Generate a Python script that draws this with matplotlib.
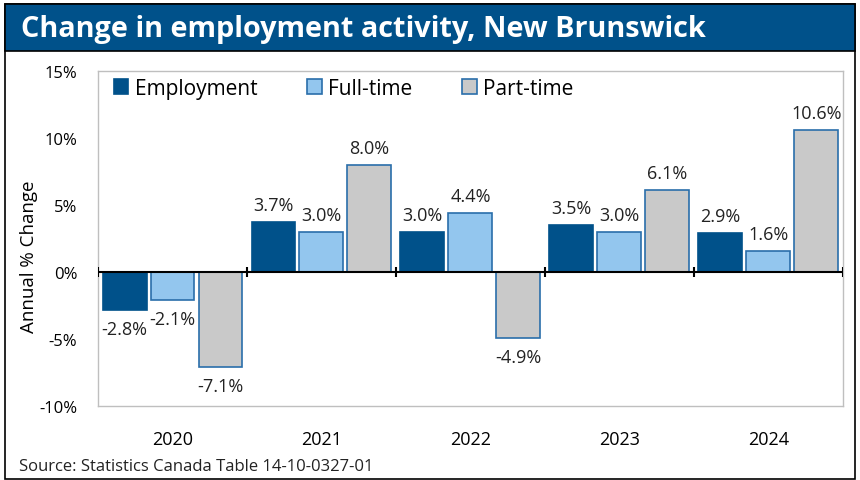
import matplotlib.pyplot as plt
import numpy as np
from matplotlib.patches import Rectangle

plt.rcParams['font.family'] = ['Open Sans', 'DejaVu Sans']

years = ['2020', '2021', '2022', '2023', '2024']
series_names = ['Employment', 'Full-time', 'Part-time']
employment = [-2.8, 3.7, 3.0, 3.5, 2.9]
full_time = [-2.1, 3.0, 4.4, 3.0, 1.6]
part_time = [-7.1, 8.0, -4.9, 6.1, 10.6]
y_ticks = [-10, -5, 0, 5, 10, 15]

fills = ['#00518a', '#93c6ee', '#c9c9c9']
edges = ['#00518a', '#2a6eaa', '#2a6eaa']

fig = plt.figure(figsize=(8.6, 4.81), dpi=100)

# outer frame and title bar
fig.patches.append(Rectangle((0.006, 0.002), 0.988, 0.988, transform=fig.transFigure,
                             fill=False, edgecolor='black', linewidth=1.2))
fig.patches.append(Rectangle((0.006, 0.891), 0.988, 0.099, transform=fig.transFigure,
                             facecolor='#00518a', edgecolor='black', linewidth=1.2))
fig.text(0.024, 0.938, 'Change in employment activity, New Brunswick', color='white',
         fontsize=20.8, fontweight='bold', va='center', ha='left')

ax = fig.add_axes([0.114, 0.154, 0.866, 0.696])

x = np.arange(len(years))
w = 0.295
step = 0.322
for i, vals in enumerate([employment, full_time, part_time]):
    pos = x + (i - 1) * step
    ax.bar(pos, vals, width=w, color=fills[i], edgecolor=edges[i],
           linewidth=1.2, label=series_names[i], zorder=2)
    for xp, v in zip(pos, vals):
        off = 0.6 if v >= 0 else -0.75
        ax.text(xp, v + off, f'{v:.1f}%', ha='center',
                va='bottom' if v >= 0 else 'top', fontsize=13, color='#222222')

# zero line with group boundary ticks
ax.axhline(0, color='black', linewidth=1.5, zorder=3)
bounds = np.arange(len(years) + 1) - 0.5
ax.vlines(bounds, -0.35, 0.35, color='black', linewidth=1.5, zorder=3)

ax.set_xlim(-0.5, len(years) - 0.5)
ax.set_ylim(-10, 15)
ax.set_yticks(y_ticks)
ax.set_yticklabels([f'{t}%' for t in y_ticks], fontsize=12)
ax.set_xticks(x)
ax.set_xticklabels(years, fontsize=13)
ax.tick_params(axis='both', length=0)
ax.tick_params(axis='x', pad=17)
ax.tick_params(axis='y', pad=15)
ax.set_ylabel('Annual % Change', fontsize=13.5)
ax.yaxis.set_label_coords(-0.08, 0.45)

for s in ax.spines.values():
    s.set_color('#bfbfbf')
    s.set_linewidth(1)

ax.legend(loc='upper left', ncol=3, frameon=False, fontsize=15,
          handlelength=0.7, handleheight=0.7, handletextpad=0.3,
          columnspacing=2.4, borderaxespad=0, bbox_to_anchor=(0.01, 1.005))

fig.text(0.022, 0.030, 'Source: Statistics Canada Table 14-10-0327-01',
         fontsize=12, color='#222222', ha='left', va='center')

fig.savefig('out.png', dpi=100)
